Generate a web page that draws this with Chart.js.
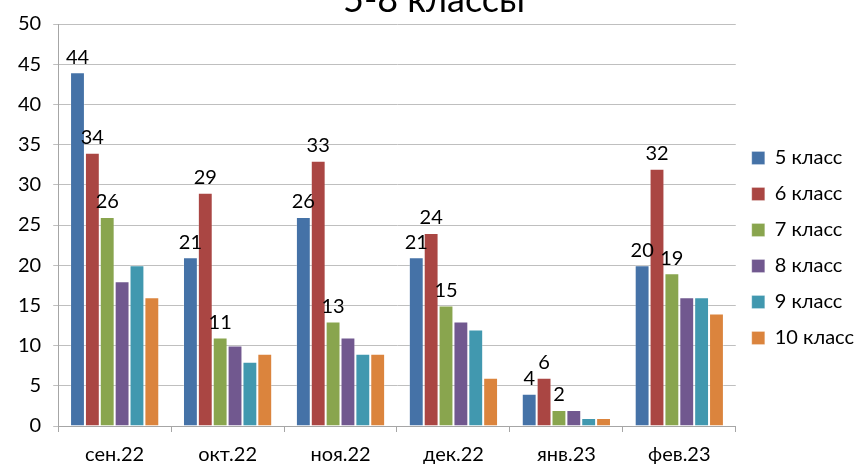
<!DOCTYPE html>
<html>
<head>
<meta charset="utf-8">
<script src="https://cdn.jsdelivr.net/npm/chart.js@4"></script>
<style>
    html, body { margin: 0; padding: 0; background: #fff; }
    .wrap { width: 856px; height: 466px; position: relative; }
</style>
</head>
<body>
<div class="wrap"><canvas id="class-chart"></canvas></div>
<script>
const months = ['сен.22', 'окт.22', 'ноя.22', 'дек.22', 'янв.23', 'фев.23'];
const class5 = [44, 21, 26, 21, 4, 20];
const class6 = [34, 29, 33, 24, 6, 32];
const class7 = [26, 11, 13, 15, 2, 19];
const class8 = [18, 10, 11, 13, 2, 16];
const class9 = [20, 8, 9, 12, 1, 16];
const class10 = [16, 9, 9, 6, 1, 14];
const yTicks = [0, 5, 10, 15, 20, 25, 30, 35, 40, 45, 50];

const font = 'Lato, "Open Sans", sans-serif';

// подписи значений только у 5, 6 и 7 класса
const valueLabels = {
    id: 'valueLabels',
    afterDatasetsDraw(chart) {
        const ctx = chart.ctx;
        ctx.save();
        ctx.font = '20px ' + font;
        ctx.fillStyle = '#000';
        ctx.textAlign = 'center';
        ctx.textBaseline = 'bottom';
        [0, 1, 2].forEach(function (i) {
            const meta = chart.getDatasetMeta(i);
            meta.data.forEach(function (bar, j) {
                ctx.fillText(chart.data.datasets[i].data[j], bar.x, bar.y - 5);
            });
        });
        ctx.restore();
    }
};

// заголовок срезан сверху, как в оригинале
const cutTitle = {
    id: 'cutTitle',
    afterDraw(chart) {
        const ctx = chart.ctx;
        ctx.save();
        ctx.font = '36px ' + font;
        ctx.fillStyle = '#000';
        ctx.textAlign = 'center';
        ctx.textBaseline = 'alphabetic';
        ctx.fillText('5-8 классы', 434, 12);
        ctx.restore();
    }
};

function makeSet(label, data, color) {
    return {
        label: label,
        data: data,
        backgroundColor: color,
        borderColor: 'rgba(255,255,255,0.25)',
        borderWidth: 1,
        categoryPercentage: 0.79,
        barPercentage: 1
    };
}

new Chart(document.getElementById('class-chart'), {
    type: 'bar',
    data: {
        labels: months,
        datasets: [
            makeSet('5 класс', class5, '#4572A7'),
            makeSet('6 класс', class6, '#AA4643'),
            makeSet('7 класс', class7, '#89A54E'),
            makeSet('8 класс', class8, '#71588F'),
            makeSet('9 класс', class9, '#4198AF'),
            makeSet('10 класс', class10, '#DB843D')
        ]
    },
    options: {
        responsive: true,
        maintainAspectRatio: false,
        animation: false,
        layout: { padding: { top: 18, right: -8, left: 6, bottom: -12 } },
        plugins: {
            legend: {
                position: 'right',
                labels: {
                    boxWidth: 13,
                    boxHeight: 13,
                    padding: 16,
                    color: '#000',
                    font: { family: font, size: 20 }
                }
            },
            tooltip: { enabled: false }
        },
        scales: {
            x: {
                offset: true,
                grid: {
                    offset: true,
                    drawOnChartArea: false,
                    drawTicks: true,
                    tickLength: 6,
                    color: '#a6a6a6'
                },
                border: { color: '#a6a6a6' },
                ticks: {
                    color: '#000',
                    padding: 11,
                    font: { family: font, size: 20 }
                }
            },
            y: {
                min: 0,
                max: 50,
                afterBuildTicks: function (axis) {
                    axis.ticks = yTicks.map(function (v) { return { value: v }; });
                },
                grid: {
                    color: '#bfbfbf',
                    tickLength: 5
                },
                border: { color: '#a6a6a6' },
                ticks: {
                    color: '#000',
                    padding: 12,
                    font: { family: font, size: 20 }
                }
            }
        }
    },
    plugins: [valueLabels, cutTitle]
});
</script>
</body>
</html>
